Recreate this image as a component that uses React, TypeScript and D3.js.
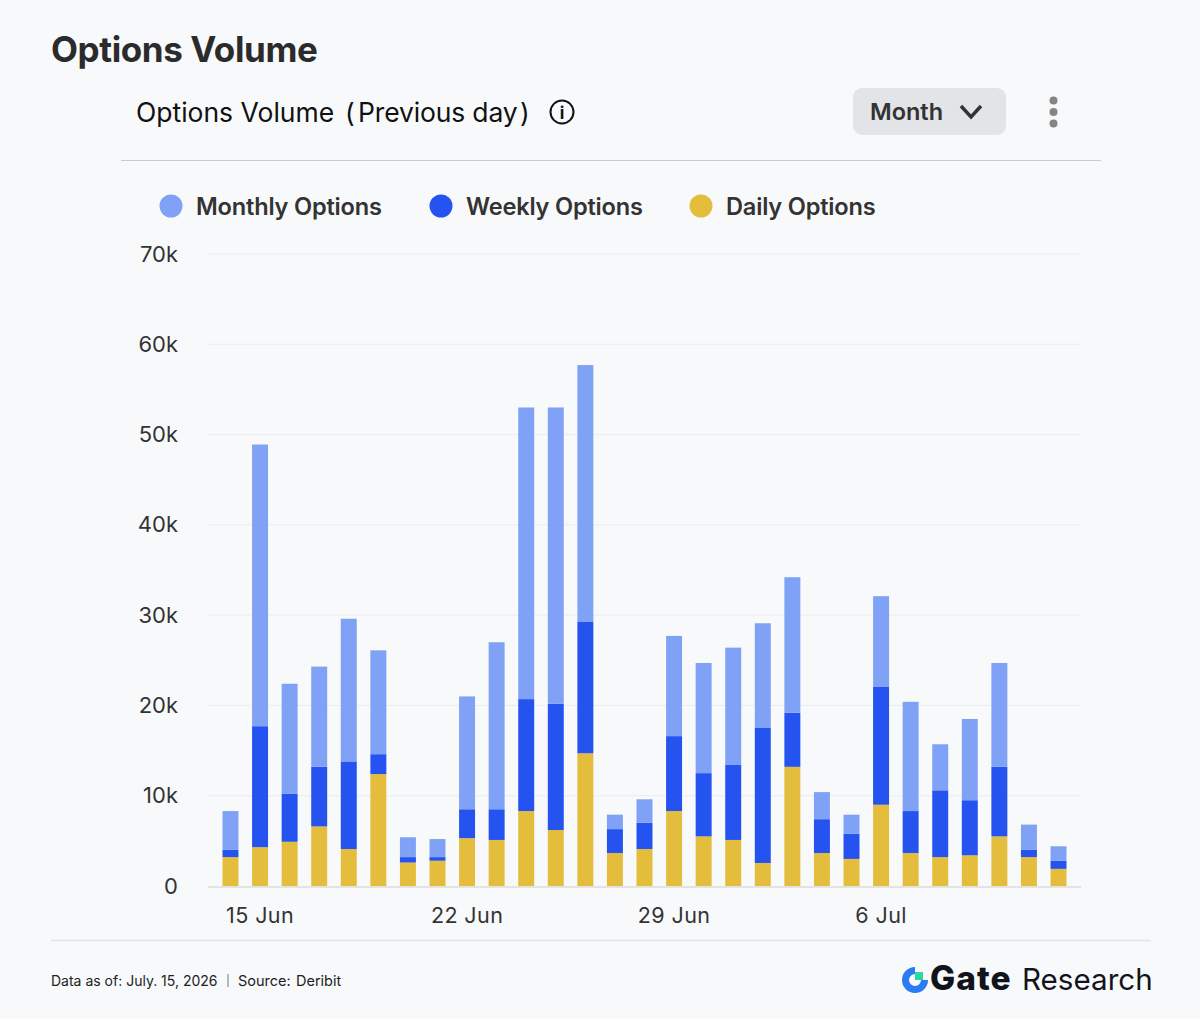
import React, { useEffect, useRef } from 'react';
import * as d3 from 'd3';

// values in thousands
const days = [
    '14 Jun', '15 Jun', '16 Jun', '17 Jun', '18 Jun', '19 Jun', '20 Jun', '21 Jun', '22 Jun', '23 Jun',
    '24 Jun', '25 Jun', '26 Jun', '27 Jun', '28 Jun', '29 Jun', '30 Jun', '1 Jul', '2 Jul', '3 Jul',
    '4 Jul', '5 Jul', '6 Jul', '7 Jul', '8 Jul', '9 Jul', '10 Jul', '11 Jul', '12 Jul'
];
const dailyOptions = [3.2, 4.3, 4.9, 6.6, 4.1, 12.4, 2.6, 2.8, 5.3, 5.1, 8.3, 6.2, 14.7, 3.65, 4.1, 8.3, 5.5, 5.1, 2.55, 13.2, 3.65, 3.0, 9.0, 3.65, 3.2, 3.4, 5.5, 3.2, 1.9];
const weeklyOptions = [0.8, 13.4, 5.3, 6.6, 9.7, 2.2, 0.6, 0.4, 3.2, 3.4, 12.4, 14.0, 14.6, 2.65, 2.9, 8.3, 7.0, 8.3, 14.95, 6.0, 3.75, 2.8, 13.1, 4.65, 7.4, 6.1, 7.7, 0.8, 0.9];
const monthlyOptions = [4.3, 31.2, 12.2, 11.1, 15.8, 11.5, 2.2, 2.0, 12.5, 18.5, 32.3, 32.8, 28.4, 1.6, 2.6, 11.1, 12.2, 13.0, 11.6, 15.0, 3.0, 2.1, 10.0, 12.1, 5.1, 9.0, 11.5, 2.8, 1.6];
const yTicks = [0, 10, 20, 30, 40, 50, 60, 70];
const xTicks = ['15 Jun', '22 Jun', '29 Jun', '6 Jul'];
const legendItems = ['Monthly Options', 'Weekly Options', 'Daily Options'];
const legendX = [171, 441, 701];

const colors: Record<string, string> = {
    daily: '#e5bd3c',
    weekly: '#2453ef',
    monthly: '#7fa2f6'
};
const legendColors = [colors.monthly, colors.weekly, colors.daily];

const font = 'Inter, "Noto Sans", sans-serif';

const App: React.FC = () => {
    const svgRef = useRef<SVGSVGElement>(null);

    useEffect(() => {
        if (!svgRef.current) return;
        const svg = d3.select(svgRef.current);
        svg.selectAll('*').remove();

        const x = d3.scaleBand<string>().domain(days).range([215.7, 1073.3]).paddingInner(0.46).paddingOuter(0.23);
        const y = d3.scaleLinear().domain([0, 70]).range([886, 254]);

        const rows = days.map((d, i) => ({
            day: d,
            daily: dailyOptions[i],
            weekly: weeklyOptions[i],
            monthly: monthlyOptions[i]
        }));
        const series = d3.stack<any>().keys(['daily', 'weekly', 'monthly'])(rows);

        // Grid
        svg.append('g')
            .selectAll('line')
            .data(yTicks.filter(t => t > 0))
            .enter()
            .append('line')
            .attr('x1', 208)
            .attr('x2', 1081)
            .attr('y1', d => y(d))
            .attr('y2', d => y(d))
            .attr('stroke', '#eaecee')
            .attr('stroke-width', 1);

        // Bars
        svg.append('g')
            .selectAll('g')
            .data(series)
            .enter()
            .append('g')
            .attr('fill', d => colors[d.key])
            .selectAll('rect')
            .data(d => d)
            .enter()
            .append('rect')
            .attr('x', d => x(d.data.day) as number)
            .attr('width', x.bandwidth())
            .attr('y', d => y(d[1]))
            .attr('height', d => y(d[0]) - y(d[1]));

        // Axes
        const yAxis = svg.append('g')
            .attr('transform', 'translate(178,0)')
            .call(d3.axisLeft(y).tickValues(yTicks).tickSize(0).tickPadding(0).tickFormat(d => (+d === 0 ? '0' : `${d}k`)));
        yAxis.select('.domain').remove();
        yAxis.selectAll('text')
            .attr('font-family', font)
            .attr('font-size', 22)
            .attr('fill', '#333333');

        const xAxis = svg.append('g')
            .attr('transform', 'translate(0,886)')
            .call(d3.axisBottom(x).tickValues(xTicks).tickSize(0).tickPadding(0));
        xAxis.select('.domain').remove();
        xAxis.selectAll('text')
            .attr('dy', 37)
            .attr('font-family', font)
            .attr('font-size', 21.5)
            .attr('letter-spacing', 0.4)
            .attr('fill', '#333333');

        svg.append('line')
            .attr('x1', 208).attr('x2', 1081)
            .attr('y1', 887).attr('y2', 887)
            .attr('stroke', '#dcdcd6').attr('stroke-width', 1.5);

        // Legend
        const legend = svg.append('g')
            .selectAll('g')
            .data(legendItems)
            .enter()
            .append('g')
            .attr('transform', (d, i) => `translate(${legendX[i]},206)`);
        legend.append('circle')
            .attr('r', 11.5)
            .attr('fill', (d, i) => legendColors[i]);
        legend.append('text')
            .attr('x', 25)
            .attr('y', 8.5)
            .attr('font-family', font)
            .attr('font-size', 23.6)
            .attr('font-weight', 600)
            .attr('letter-spacing', -0.2)
            .attr('fill', '#333333')
            .text(d => d);
    }, []);

    return (
        <svg
            ref={svgRef}
            width={1200}
            height={1019}
            style={{ position: 'absolute', left: 0, top: 0, background: '#f8f9fb' }}
        />
    );
};

const Chrome: React.FC = () => (
    <svg width={1200} height={1019} style={{ position: 'absolute', left: 0, top: 0 }} fontFamily={font}>
        <text x={51} y={62} fontSize={35} fontWeight={700} letterSpacing={-0.4} fill="#2b2b2b">Options Volume</text>
        <text y={122} fontSize={26.5} fill="#111111">
            <tspan x={136}>Options Volume</tspan>
            <tspan x={345}>(</tspan>
            <tspan x={358} letterSpacing={-0.15}>Previous day</tspan>
            <tspan x={520}>)</tspan>
        </text>
        <circle cx={562} cy={112} r={11.5} fill="none" stroke="#111111" strokeWidth={2} />
        <text x={562} y={118.5} fontSize={17} fontWeight={700} textAnchor="middle" fill="#111111">i</text>
        <line x1={121} x2={1101} y1={160.5} y2={160.5} stroke="#c8cace" strokeWidth={1.2} />
        <rect x={853} y={88} width={153} height={47} rx={9} fill="#e2e4e8" />
        <text x={870} y={120} fontSize={23.5} fontWeight={600} fill="#333333">Month</text>
        <path d="M961,106 L971,117 L981,106" fill="none" stroke="#333333" strokeWidth={3.5} />
        <circle cx={1053.5} cy={100.5} r={4} fill="#858585" />
        <circle cx={1053.5} cy={112} r={4} fill="#858585" />
        <circle cx={1053.5} cy={123.5} r={4} fill="#858585" />
        <line x1={51} x2={1151} y1={940.5} y2={940.5} stroke="#e2e3e6" strokeWidth={1.5} />
        <text x={51} y={986} fontSize={14} fill="#222222">Data as of: July. 15, 2026</text>
        <line x1={228} x2={228} y1={974} y2={987} stroke="#777777" strokeWidth={1} />
        <text y={986} fontSize={14.5} fill="#222222">
            <tspan x={238}>Source:</tspan>
            <tspan x={296}>Deribit</tspan>
        </text>
        <path d="M915,967 A13,13 0 1,0 928,980 L921,980 A6,6 0 1,1 915,974 Z" fill="#2b7bf3" />
        <rect x={915} y={972} width={8} height={8} fill="#2fd6a3" />
        <text x={930} y={990} fontSize={33.5} fontWeight={800} letterSpacing={1} fill="#12141c">Gate</text>
        <text x={1022} y={990} fontSize={29.6} fontWeight={400} fill="#12141c">Research</text>
    </svg>
);

export default function Root() {
    return (
        <div>
            <App />
            <Chrome />
        </div>
    );
}
